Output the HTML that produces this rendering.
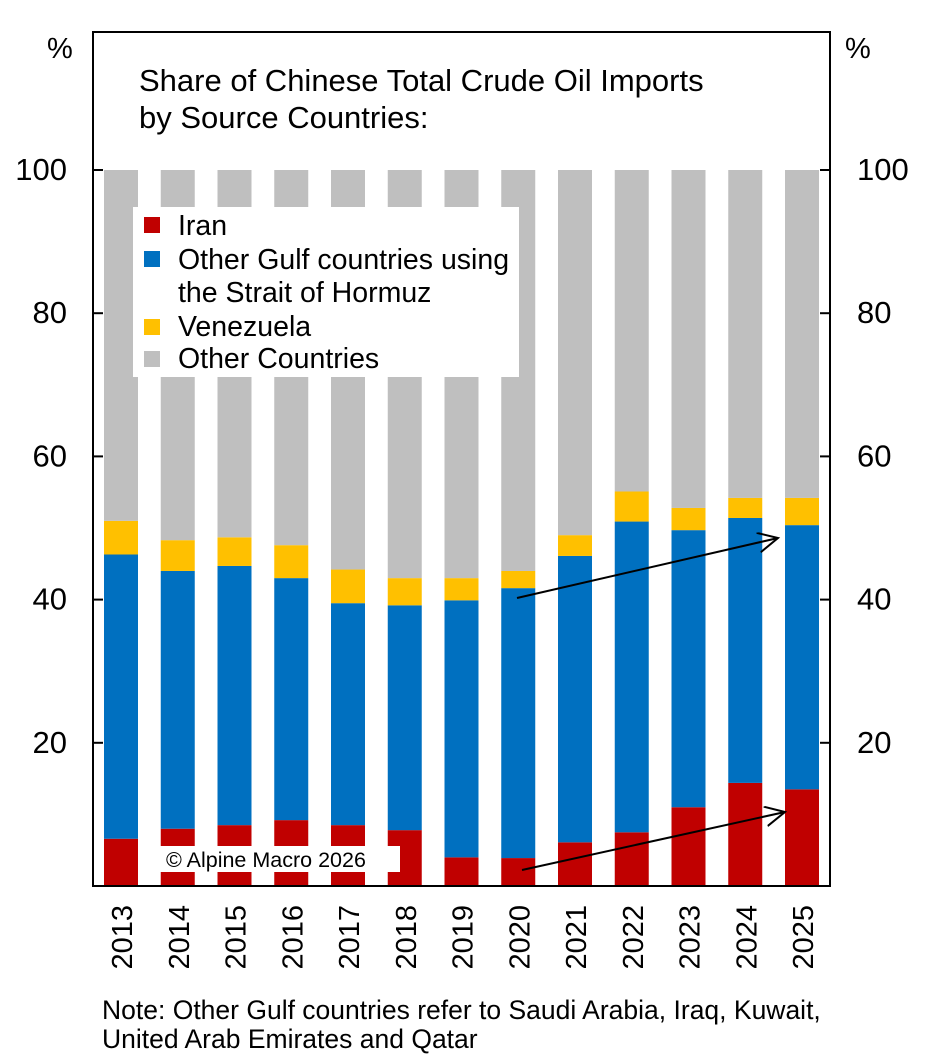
<!DOCTYPE html>
<html><head><meta charset="utf-8"><style>
body{margin:0;background:#fff;}
svg{display:block;font-family:"Liberation Sans",Arial,sans-serif;}
</style></head><body>
<svg id="chart" width="933" height="1062" viewBox="0 0 933 1062">
<defs><marker id="ah" markerWidth="24" markerHeight="24" refX="20" refY="10" orient="auto" markerUnits="userSpaceOnUse"><path d="M0,0 L20,10 L0,20" fill="none" stroke="#000" stroke-width="2"/></marker></defs>
<g id="bars"></g>
<g id="axes"></g>
<text x="139" y="91" font-size="31">Share of Chinese Total Crude Oil Imports</text>
<text x="139" y="128" font-size="31">by Source Countries:</text>
<text x="47" y="58" font-size="29">%</text>
<text x="845" y="58" font-size="29">%</text>
<g>
<rect x="133" y="207" width="386" height="170" fill="#fff"/>
<rect x="144" y="217" width="16" height="16" fill="#c00000"/>
<text x="178" y="235" font-size="28.5">Iran</text>
<rect x="144" y="251" width="16" height="16" fill="#0070c0"/>
<text x="178" y="269" font-size="28.5">Other Gulf countries using</text>
<text x="178" y="302" font-size="28.5">the Strait of Hormuz</text>
<rect x="144" y="319" width="16" height="16" fill="#ffc000"/>
<text x="178" y="336" font-size="28.5">Venezuela</text>
<rect x="144" y="351" width="16" height="16" fill="#bfbfbf"/>
<text x="178" y="368" font-size="28.5">Other Countries</text>
</g>
<rect x="160" y="846" width="240" height="26" fill="#fff"/>
<text x="166" y="867" font-size="21.5">© Alpine Macro 2026</text>
<line x1="517" y1="598" x2="778" y2="538" stroke="#000" stroke-width="2" marker-end="url(#ah)"/>
<line x1="522" y1="870" x2="785" y2="812" stroke="#000" stroke-width="2" marker-end="url(#ah)"/>
<text x="102" y="1019" font-size="26.5">Note: Other Gulf countries refer to Saudi Arabia, Iraq, Kuwait,</text>
<text x="102" y="1048" font-size="26.5">United Arab Emirates and Qatar</text>
</svg>
<script>
const years=["2013","2014","2015","2016","2017","2018","2019","2020","2021","2022","2023","2024","2025"];
const iran=[6.6,8.0,8.5,9.2,8.5,7.8,4.0,3.9,6.1,7.5,11.0,14.4,13.5];
const gulf=[39.7,36.0,36.2,33.8,31.0,31.4,35.9,37.7,40.0,43.4,38.7,37.0,36.9];
const venezuela=[4.7,4.3,4.0,4.6,4.7,3.8,3.1,2.4,2.9,4.2,3.1,2.8,3.8];
const yTicks=[20,40,60,80,100];
const NS="http://www.w3.org/2000/svg";
const L=93,R=830,T=32,B=886;
const y=v=>B-v*(B-170)/100;
const x=i=>121+i*(802-121)/(years.length-1);
const bw=34;
const bars=document.getElementById('bars'),axes=document.getElementById('axes');
function mk(tag,a,p){const e=document.createElementNS(NS,tag);for(const k in a)e.setAttribute(k,a[k]);p.appendChild(e);return e;}
years.forEach((yr,i)=>{
 const other=100-iran[i]-gulf[i]-venezuela[i];
 const segs=[[iran[i],'#c00000','iran'],[gulf[i],'#0070c0','gulf'],[venezuela[i],'#ffc000','venezuela'],[other,'#bfbfbf','other']];
 let c=0;
 segs.forEach(s=>{
  const r=mk('rect',{x:x(i)-bw/2,y:y(c+s[0]),width:bw,height:y(c)-y(c+s[0]),fill:s[1]},bars);
  
  
  c+=s[0];
 });
 const t=mk('text',{x:0,y:0,'font-size':29,'text-anchor':'end',transform:`translate(${x(i)+11},905) rotate(-90)`},axes);
 t.textContent=yr;
 
 
});
mk('rect',{x:L,y:T,width:R-L,height:B-T,fill:'none',stroke:'#000','stroke-width':2},axes);
yTicks.forEach(v=>{
 mk('line',{x1:L,x2:L+10,y1:y(v),y2:y(v),stroke:'#000','stroke-width':2},axes);
 mk('line',{x1:R-10,x2:R,y1:y(v),y2:y(v),stroke:'#000','stroke-width':2},axes);
 const a=mk('text',{x:67,y:y(v)+10,'font-size':31,'text-anchor':'end'},axes);a.textContent=v;
 
 
 const b=mk('text',{x:857,y:y(v)+10,'font-size':31},axes);b.textContent=v;
 
 
});
</script>
</body></html>
